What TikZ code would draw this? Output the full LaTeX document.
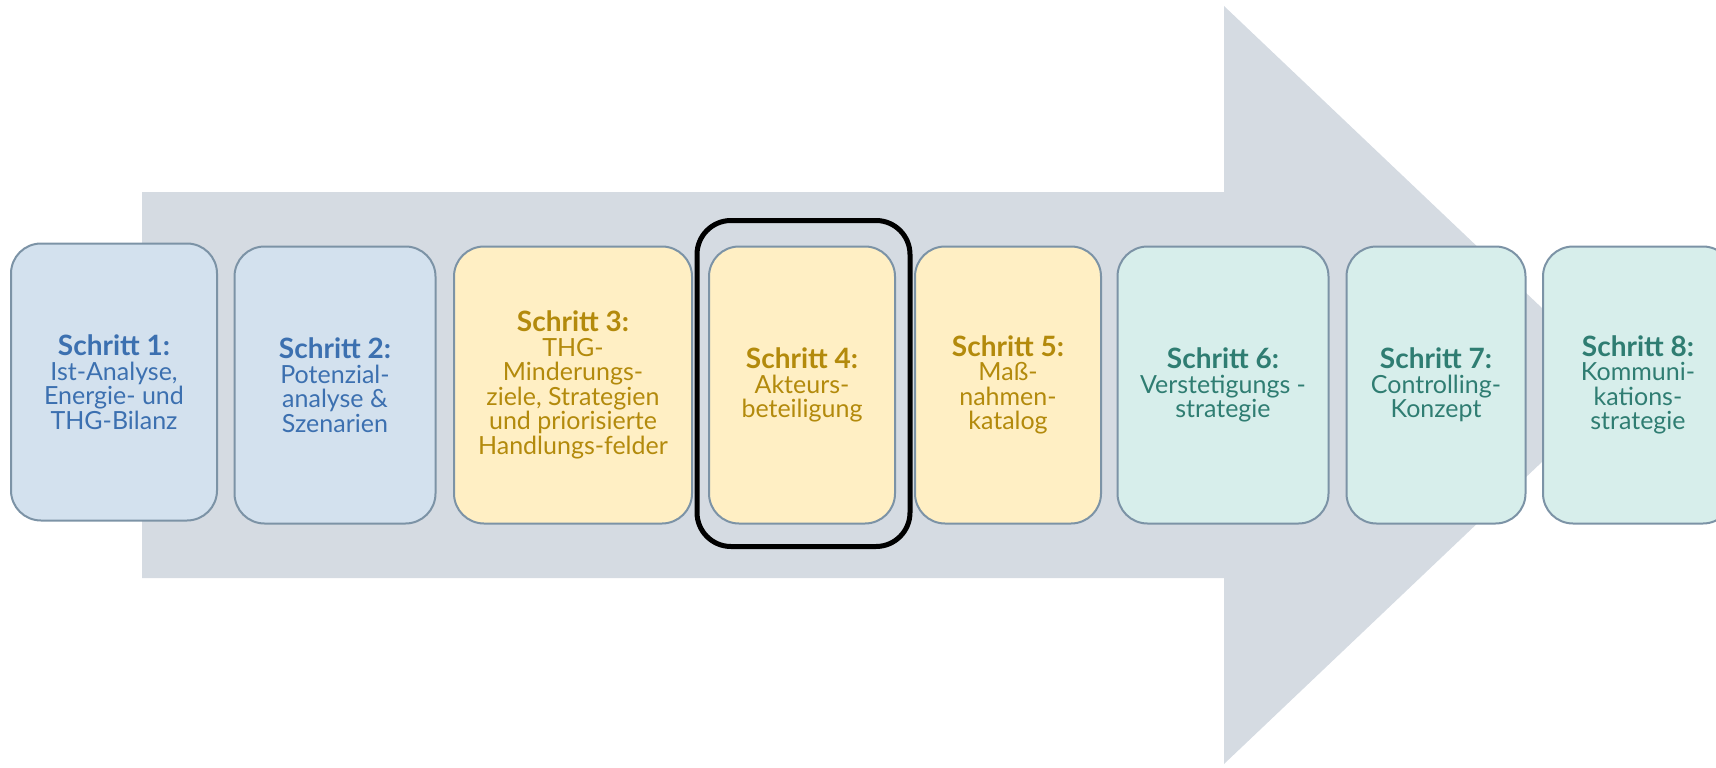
\documentclass[tikz,border=0pt]{standalone}
\usepackage{fontspec}
\setmainfont{Lato}
\usepackage{tikz}
\usetikzlibrary{positioning}
\usetikzlibrary{calc}
\definecolor{pfeilgrau}{HTML}{D5DBE2}
\definecolor{randgrau}{HTML}{7C93A6}
\definecolor{blaufill}{HTML}{D3E1EE}
\definecolor{blautext}{HTML}{3C70B0}
\definecolor{gelbfill}{HTML}{FFEFC4}
\definecolor{gelbtext}{HTML}{B38A0C}
\definecolor{tuerkisfill}{HTML}{D7EEEB}
\definecolor{tuerkistext}{HTML}{2F7D72}
\newcommand{\schritt}[1]{{\fontsize{28}{25}\selectfont\bfseries Schritt #1:}}
\tikzstyle{schrittbox}=[rectangle,rounded corners=30pt,draw=randgrau,line width=2pt,minimum height=277pt,inner sep=0pt,align=center,font=\fontsize{25}{24.5}\selectfont]
\tikzstyle{blau}=[schrittbox,fill=blaufill,text=blautext]
\tikzstyle{gelb}=[schrittbox,fill=gelbfill,text=gelbtext]
\tikzstyle{tuerkis}=[schrittbox,fill=tuerkisfill,text=tuerkistext]
\tikzstyle{rahmen}=[draw=black,line width=5pt,rounded corners=34pt]

\begin{document}
\begin{tikzpicture}[x=1pt,y=-1pt]
    \useasboundingbox (0,0) rectangle (1716,768);
    \clip (0,0) rectangle (1716,768);
    % big grey arrow behind the steps
    \fill[pfeilgrau] (142,192) -- (1224,192) -- (1224,6) -- (1623,385) -- (1224,764) -- (1224,578) -- (142,578) -- cycle;
    % Now the eight steps
    \foreach \pos/\w/\name/\stil/\txt in {
        {(114,382)/206/s1/blau/{\schritt{1}\\Ist-Analyse,\\Energie- und\\THG-Bilanz}},
        {(335,385)/201/s2/blau/{\schritt{2}\\Potenzial-\\analyse \&\\Szenarien}},
        {(573,385)/238/s3/gelb/{\schritt{3}\\THG-\\Minderungs-\\ziele, Strategien\\und priorisierte\\Handlungs-felder}},
        {(802,385)/186/s4/gelb/{\schritt{4}\\Akteurs-\\beteiligung}},
        {(1008,385)/186/s5/gelb/{\schritt{5}\\Maß-\\nahmen-\\katalog}},
        {(1223,385)/211/s6/tuerkis/{\schritt{6}\\Verstetigungs -\\strategie}},
        {(1436,385)/179/s7/tuerkis/{\schritt{7}\\Controlling-\\Konzept}},
        {(1638,385)/190/s8/tuerkis/{\schritt{8}\\Kommuni-\\kations-\\strategie}}}
        \node[\stil,minimum width=\w pt] (\name) at \pos {\txt};
    % highlight round step 4
    \draw[rahmen] ($(s4.north west)+(-11,-25)$) rectangle ($(s4.south east)+(14,22)$);
\end{tikzpicture}
\end{document}
